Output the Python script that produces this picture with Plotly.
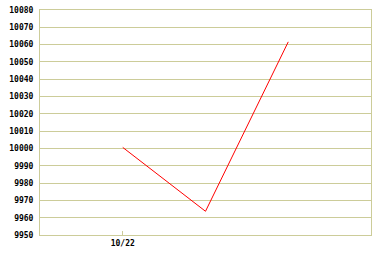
import plotly.graph_objects as go

# Data
x_pos = [0, 1, 2]
dates = ["10/22", "10/23", "10/24"]
values = [10000.6, 9963.7, 10061.6]
y_ticks = list(range(9950, 10081, 10))

grid = "#cccc99"

fig = go.Figure()
fig.add_trace(go.Scatter(x=x_pos, y=values, mode="lines",
                         line=dict(color="#ff0000", width=1), hoverinfo="skip"))

fig.update_layout(
    width=382, height=258,
    margin=dict(l=40, r=11, t=10, b=23, autoexpand=False),
    paper_bgcolor="white", plot_bgcolor="white",
    showlegend=False,
    font=dict(family="DejaVu Sans Mono", size=8, color="black", weight="bold"),
)
fig.update_xaxes(
    range=[-1, 3], tickvals=[x_pos[0]], ticktext=[dates[0]],
    showgrid=False, zeroline=False, automargin=False,
    showline=True, linecolor=grid, linewidth=1, mirror=True,
    ticks="inside", ticklen=4, tickcolor=grid, tickwidth=1,
)
fig.update_yaxes(
    range=[9950, 10080], tickvals=y_ticks, ticktext=[str(v) for v in y_ticks],
    showgrid=True, gridcolor=grid, gridwidth=1, zeroline=False, automargin=False,
    showline=True, linecolor=grid, linewidth=1, mirror=True,
    ticks="", ticklabelstandoff=4,
)
fig.write_html("out.html")
